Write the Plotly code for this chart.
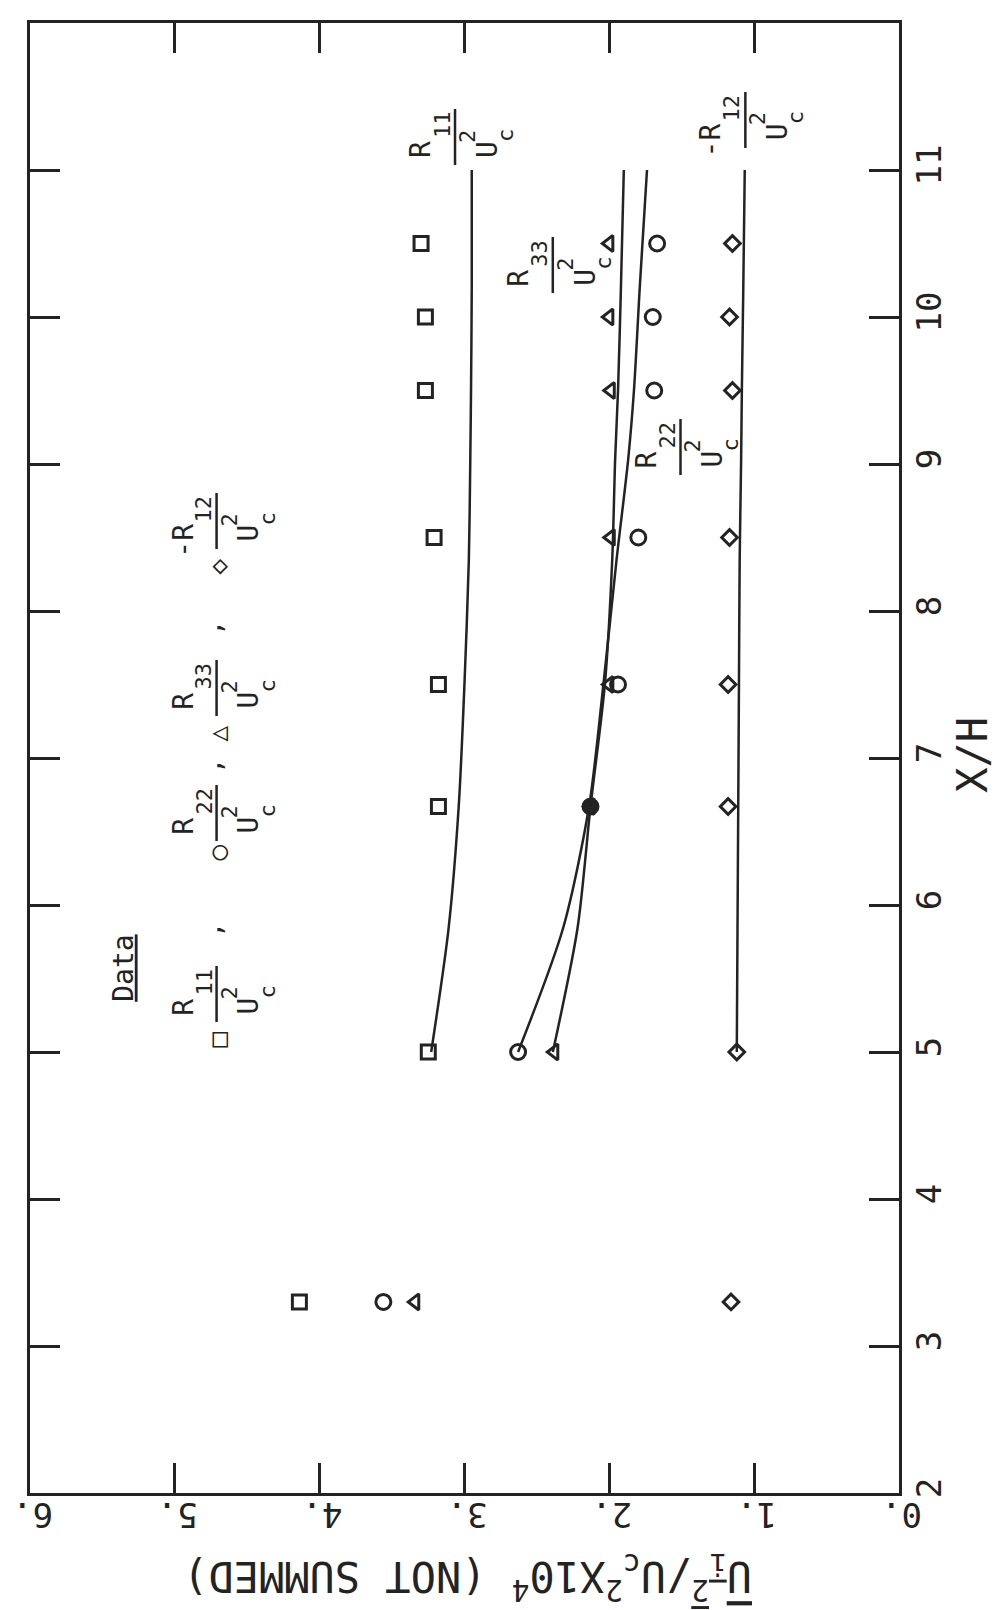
import plotly.graph_objects as go

# ---------------- data ----------------
xh_data = [3.3, 5.0, 6.67, 7.5, 8.5, 9.5, 10.0, 10.5]
r11_data = [4.14, 3.25, 3.18, 3.18, 3.21, 3.27, 3.27, 3.30]
r22_data = [3.56, 2.63, 2.13, 1.94, 1.80, 1.69, 1.70, 1.67]
r33_data = [3.34, 2.38, 2.13, 2.00, 1.99, 1.99, 2.00, 2.00]
r12_data = [1.16, 1.12, 1.18, 1.18, 1.17, 1.15, 1.17, 1.15]

xh_curve = [5.0, 5.84, 6.67, 7.51, 8.35, 9.03, 9.5, 10.2, 11.0]
r11_curve = [3.23, 3.11, 3.04, 3.00, 2.97, 2.96, 2.955, 2.95, 2.95]
r22_curve = [2.63, 2.32, 2.14, 2.04, 1.95, 1.87, 1.83, 1.79, 1.74]
r33_curve = [2.39, 2.22, 2.13, 2.03, 1.98, 1.96, 1.94, 1.92, 1.90]
r12_curve = [1.12, 1.115, 1.11, 1.105, 1.10, 1.09, 1.085, 1.075, 1.065]

value_ticks = [0, 1, 2, 3, 4, 5, 6]
value_tick_text = ["0.", "1.", "2.", "3.", "4.", "5.", "6."]
xh_ticks = [2, 3, 4, 5, 6, 7, 8, 9, 10, 11, 12]
xh_tick_text = ["2", "3", "4", "5", "6", "7", "8", "9", "10", "11", "12"]

legend_symbols = ["\u25a1", "\u25cb", "\u25b3", "\u25c7"]
legend_mains = ["R", "R", "R", "-R"]
legend_subs = ["11", "22", "33", "12"]

curve_label_mains = ["R", "-R", "R", "R"]
curve_label_subs = ["11", "12", "33", "22"]

# ---------------- layout geometry ----------------
W, H = 1000, 1610
ML, MR, MT, MB = 28, 101, 23, 117
INK = "#232323"
FONT = "DejaVu Sans Mono"


def pp(x, y):
    """pixel -> paper coordinates"""
    return (x - ML) / (W - ML - MR), (H - MB - y) / (H - MT - MB)


annotations = []
shapes = []


def txt(x, y, text, size, angle=-90):
    xp, yp = pp(x, y)
    annotations.append(dict(
        x=xp, y=yp, xref="paper", yref="paper", text=text, showarrow=False,
        textangle=angle, xanchor="center", yanchor="middle",
        font=dict(family=FONT, size=size, color=INK)))


def fraction(cx, cy, main, sub):
    # bar
    x0, y0 = pp(cx, cy - 28)
    x1, y1 = pp(cx, cy + 28)
    shapes.append(dict(type="line", xref="paper", yref="paper",
                       x0=x0, x1=x1, y0=y0, y1=y1,
                       line=dict(color=INK, width=2.5)))
    if main.startswith("-"):
        txt(cx - 34, cy + 20, main, 28)
    else:
        txt(cx - 34, cy + 13, main, 28)
    txt(cx - 13, cy - 12, sub, 22)
    txt(cx + 12, cy - 1, "2", 22)
    txt(cx + 32, cy + 12, "U", 28)
    txt(cx + 51, cy - 2, "c", 22)


# legend block ("Data")
txt(122, 968, "<u>Data</u>", 28)
legend_sym_y = [1040, 853, 734, 567]
legend_frac_off = [46, 40, 46, 46]
legend_comma_y = [930, 766, 628]
for i in range(4):
    sy = legend_sym_y[i]
    txt(216, sy, legend_symbols[i], 26)
    fraction(215, sy - legend_frac_off[i], legend_mains[i], legend_subs[i])
    if i < 3:
        txt(210, legend_comma_y[i], ",", 26)

# curve labels
curve_label_pos = [(454, 137), (745, 120), (552, 265), (680, 447)]
for (cx, cy), m, s in zip(curve_label_pos, curve_label_mains, curve_label_subs):
    fraction(cx, cy, m, s)

# axis titles
txt(972, 755, "X/H", 42)
txt(466, 1577,
    "<span style='text-decoration:overline'>U<sub>i</sub><sup>2</sup></span>"
    "/U<sub>c</sub><sup>2</sup>X10<sup>4</sup> (NOT SUMMED)", 42, angle=180)

# ---------------- traces ----------------
fig = go.Figure()

line_style = dict(color=INK, width=2.5, shape="spline", smoothing=0.8)
for yc in [r11_curve, r22_curve, r33_curve, r12_curve]:
    fig.add_trace(go.Scatter(x=yc, y=xh_curve, mode="lines", line=line_style,
                             hoverinfo="skip", showlegend=False))

mk_line = dict(color=INK, width=3)
fig.add_trace(go.Scatter(x=r11_data, y=xh_data, mode="markers", showlegend=False,
                         marker=dict(symbol="square-open", size=14, color=INK, line=mk_line)))
fig.add_trace(go.Scatter(x=r33_data, y=xh_data, mode="markers", showlegend=False,
                         marker=dict(symbol="triangle-left-open", size=14, color=INK, line=mk_line)))
r22_symbols = ["circle" if abs(v - 6.67) < 0.01 else "circle-open" for v in xh_data]
fig.add_trace(go.Scatter(x=r22_data, y=xh_data, mode="markers", showlegend=False,
                         marker=dict(symbol=r22_symbols, size=15, color=INK, line=mk_line)))
fig.add_trace(go.Scatter(x=r12_data, y=xh_data, mode="markers", showlegend=False,
                         marker=dict(symbol="diamond-open", size=12, color=INK, line=mk_line)))

fig.update_layout(
    width=W, height=H,
    margin=dict(l=ML, r=MR, t=MT, b=MB, pad=0),
    paper_bgcolor="white", plot_bgcolor="white",
    showlegend=False,
    annotations=annotations, shapes=shapes,
    xaxis=dict(range=[6, 0], tickvals=value_ticks, ticktext=value_tick_text,
               tickangle=180, ticks="inside", ticklen=30, tickwidth=2.5,
               tickcolor=INK, showline=True, linewidth=3, linecolor=INK,
               mirror="ticks", showgrid=False, zeroline=False,
               ticklabelstandoff=0, ticklabelshift=18,
               tickfont=dict(family=FONT, size=34, color=INK)),
    yaxis=dict(range=[2, 12], side="right", tickvals=xh_ticks, ticktext=xh_tick_text,
               tickangle=-90, ticks="inside", ticklen=30, tickwidth=2.5,
               tickcolor=INK, showline=True, linewidth=3, linecolor=INK,
               mirror="ticks", showgrid=False, zeroline=False,
               ticklabelstandoff=-2,
               tickfont=dict(family=FONT, size=34, color=INK)),
)

fig.write_html("out.html")
